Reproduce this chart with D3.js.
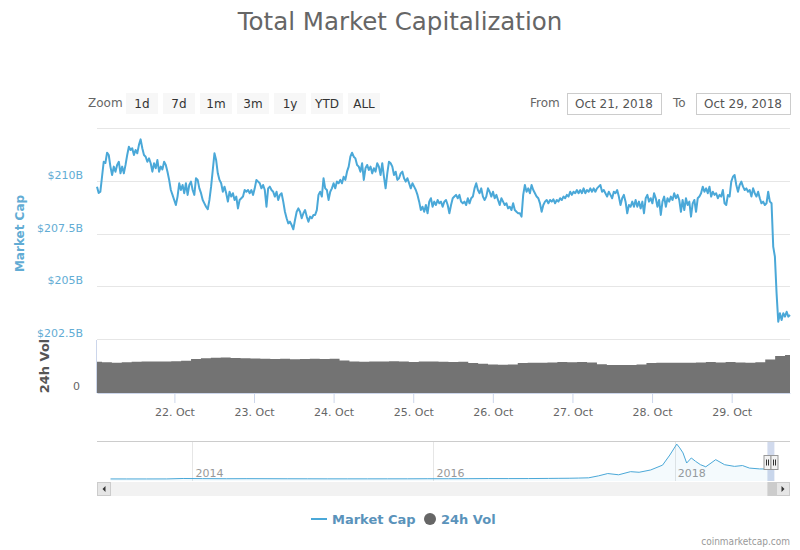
<!DOCTYPE html>
<html>
<head>
<meta charset="utf-8">
<script src="https://cdn.jsdelivr.net/npm/d3@7"></script>
<style>
  body { margin: 0; background: #fff; }
  text { font-family: "DejaVu Sans", Verdana, sans-serif; }
</style>
</head>
<body>
<script>
// cadre
const largeur = 800;
const hauteur = 550;

// données -------------------------------------------------------------
const titre = "Total Market Capitalization";
const debut = new Date("2018-10-21T00:40:00Z");
const fin = new Date("2018-10-29T17:35:00Z");

// capitalisation totale (milliards $), un point toutes les ~30 min
const marketCap = [
  209.72,209.42,209.48,210.19,210.90,210.84,211.33,211.22,210.67,210.27,
  210.67,210.43,210.75,210.90,210.35,210.67,210.35,210.75,211.22,211.61,
  211.46,211.54,211.22,211.46,211.30,211.70,211.96,211.54,211.22,211.14,
  210.90,211.06,210.83,210.43,210.83,210.59,210.98,210.43,210.67,210.54,
  210.90,210.75,210.43,210.04,209.56,209.33,209.09,208.85,209.25,209.88,
  209.56,209.80,209.41,209.88,209.33,209.80,209.96,209.56,209.33,210.12,
  210.04,209.64,209.41,209.09,208.93,208.77,208.65,209.09,209.72,210.51,
  211.30,210.98,210.35,210.04,209.88,209.48,209.72,209.41,209.01,209.48,
  209.25,209.41,209.09,209.25,208.69,209.09,209.17,209.25,209.56,209.48,
  209.56,209.41,209.56,209.33,209.64,210.04,209.96,209.88,209.64,209.80,
  209.56,208.77,209.64,209.72,
  209.56,209.48,209.25,209.48,209.09,209.33,209.41,209.01,208.53,208.22,
  207.98,208.06,207.90,207.70,208.14,208.53,208.69,208.53,208.22,208.46,
  208.61,208.30,208.06,208.30,208.22,208.38,208.38,208.61,209.33,209.48,
  209.25,210.12,209.64,209.56,209.09,209.48,209.64,209.88,209.64,209.96,
  209.88,210.04,209.88,210.19,210.04,210.43,210.67,211.14,211.33,211.14,
  211.06,210.75,210.67,210.43,210.83,210.04,210.59,210.75,210.51,210.67,
  210.35,210.59,210.43,210.83,210.67,210.27,210.83,210.19,209.64,210.35,
  210.90,210.83,210.67,210.27,210.43,210.04,210.12,210.35,210.43,210.12,
  209.96,210.12,209.88,209.64,209.88,209.72,209.56,209.33,209.01,208.61,
  208.77,208.53,208.85,208.46,209.01,209.17,208.77,209.01,208.85,209.09,
  208.93,209.01,208.77,209.01,
  209.09,208.85,208.46,208.85,209.17,209.25,209.33,209.17,209.33,209.01,
  208.93,209.01,208.85,209.17,208.93,209.17,209.25,209.64,209.88,209.56,
  209.41,209.64,209.25,209.09,209.25,209.64,209.48,209.25,209.48,209.17,
  209.33,209.09,208.85,209.17,209.01,208.85,208.93,208.69,208.77,208.61,
  208.93,208.61,208.53,208.46,208.46,208.30,209.33,209.80,209.48,209.64,
  209.41,209.80,209.56,209.41,209.25,209.17,208.93,208.53,208.85,209.01,
  209.09,208.93,209.09,209.01,209.12,208.93,209.09,209.01,209.17,209.09,
  209.25,209.17,209.33,209.25,209.48,209.33,209.48,209.41,209.56,209.41,
  209.56,209.41,209.64,209.41,209.56,209.48,209.64,209.48,209.64,209.48,
  209.64,209.72,209.80,209.48,209.56,209.41,209.25,209.48,209.33,209.17,
  209.48,209.41,209.56,209.25,208.85,
  209.17,209.33,209.01,208.46,208.85,208.77,209.01,208.77,209.09,208.77,
  209.01,208.69,209.01,208.46,209.17,209.33,209.01,209.17,208.93,209.41,
  209.17,208.77,209.09,208.38,209.01,209.25,208.77,209.17,209.01,209.25,
  209.09,209.41,209.17,209.33,209.09,208.53,209.09,208.61,209.17,208.85,
  209.01,208.30,208.93,209.09,208.53,209.17,209.25,209.41,209.72,209.48,
  209.64,209.41,209.72,209.25,209.48,209.33,209.41,209.17,209.33,209.25,
  209.56,208.93,208.85,209.33,209.25,209.96,210.19,210.27,209.80,209.48,
  209.80,209.96,209.72,209.56,209.64,209.48,209.56,209.25,209.64,209.41,
  209.25,209.48,209.17,208.93,209.01,208.85,208.93,209.48,209.01,208.93,
  206.88,206.40,204.67,203.32,203.72,203.40,203.72,203.56,203.79,203.56,
  203.64
];

// volume 24h (milliards $), un point toutes les ~3 h
const volume = [
  14.7,14.5,14.3,14.5,14.7,14.8,14.8,14.9,15.0,15.2,
  16.0,16.4,16.6,16.7,16.5,16.4,16.3,16.2,16.0,16.1,
  15.9,16.0,16.1,16.0,16.1,15.3,14.9,14.7,14.9,14.8,
  15.0,14.8,14.6,14.8,14.9,14.7,14.6,14.7,14.2,13.8,
  13.4,13.3,13.5,14.1,14.3,14.3,14.4,14.6,14.5,14.6,
  14.4,13.6,13.2,13.2,13.2,13.4,14.1,14.3,14.3,14.3,
  14.3,14.4,14.6,14.4,14.6,14.4,14.3,14.5,15.8,17.5,
  17.9
];

const capTicks = [202.5, 205, 207.5, 210, 212.5];
const volTicks = [0];

// navigateur : historique complet
const navDates = [
  "2013-04-28","2013-06-15","2013-08-15","2013-10-15","2013-12-04","2014-02-01",
  "2014-04-15","2014-06-15","2014-08-15","2014-10-15","2014-12-15","2015-02-15",
  "2015-04-15","2015-06-15","2015-08-15","2015-10-15","2015-12-15","2016-02-15",
  "2016-04-15","2016-06-15","2016-08-15","2016-10-15","2016-12-15","2017-01-15",
  "2017-02-15","2017-03-15","2017-04-15","2017-05-15","2017-06-12","2017-07-15",
  "2017-08-20","2017-09-15","2017-10-20","2017-11-25","2017-12-17","2018-01-07",
  "2018-01-16","2018-01-26","2018-02-06","2018-02-20","2018-03-05","2018-03-20",
  "2018-04-05","2018-05-05","2018-06-01","2018-07-01","2018-07-25","2018-08-15",
  "2018-09-15","2018-10-29"
];
const navValues = [
  1.6,1.3,1.3,2.0,12,9,
  6,8,7,5.5,4.5,3.5,
  3.5,3.7,4.0,4.4,6.6,6.5,
  7.5,10.5,10,10.5,14,16,
  18,22,28,75,130,100,
  175,160,215,330,570,830,
  740,620,380,500,420,340,
  290,460,340,300,320,260,
  240,235
];
const navDebut = new Date("2013-03-18T00:00:00Z");
const navFin = new Date("2018-12-16T00:00:00Z");

const boutons = ["1d", "7d", "1m", "3m", "1y", "YTD", "ALL"];

// couleurs
const bleu = "#4aa8d8";
const bleuTexte = "#62acd4";
const gris = "#737373";
const grille = "#e6e6e6";

// ---------------------------------------------------------------------
const svg = d3.select("body")
  .append("svg")
  .attr("width", largeur)
  .attr("height", hauteur);

const gauche = 97, droite = 790;

const x = d3.scaleUtc().domain([debut, fin]).range([gauche, droite]);
const yCap = d3.scaleLinear().domain([202.5, 212.5]).range([339, 128]);
const yVol = d3.scaleLinear().domain([0, 25]).range([393, 340]);

const pasCap = (fin - debut) / (marketCap.length - 1);
const donneesCap = marketCap.map((v, i) => ({ t: new Date(+debut + i * pasCap), v }));
const pasVol = (fin - debut) / (volume.length - 1);
const donneesVol = volume.map((v, i) => ({ t: new Date(+debut + i * pasVol), v }));

// titre
svg.append("text")
  .attr("x", largeur / 2)
  .attr("y", 30)
  .attr("text-anchor", "middle")
  .style("font-size", "24.5px")
  .style("fill", "#666")
  .text(titre);

// boutons de zoom
svg.append("text")
  .attr("x", 88).attr("y", 107)
  .style("font-size", "12px").style("fill", "#666")
  .text("Zoom");

const btn = svg.append("g").selectAll("g")
  .data(boutons)
  .join("g")
  .attr("transform", (d, i) => `translate(${126 + i * 37},93)`);
btn.append("rect")
  .attr("width", 32).attr("height", 21)
  .attr("fill", "#f7f7f7");
btn.append("text")
  .attr("x", 16).attr("y", 15)
  .attr("text-anchor", "middle")
  .style("font-size", "12px").style("fill", "#333")
  .text(d => d);

// champs de dates
const fmtChamp = d3.utcFormat("%b %-d, %Y");
const champs = [
  { label: "From", lx: 530, bx: 567, date: debut },
  { label: "To", lx: 673, bx: 696, date: fin }
];
champs.forEach(c => {
  svg.append("text")
    .attr("x", c.lx).attr("y", 107)
    .style("font-size", "12px").style("fill", "#666")
    .text(c.label);
  svg.append("rect")
    .attr("x", c.bx + 0.5).attr("y", 93.5)
    .attr("width", 94).attr("height", 21)
    .attr("fill", "#fff").attr("stroke", "#ccc");
  svg.append("text")
    .attr("x", c.bx + 47).attr("y", 108)
    .attr("text-anchor", "middle")
    .style("font-size", "12px").style("fill", "#555")
    .text(fmtChamp(c.date));
});

// grille et étiquettes du panneau principal
svg.append("g")
  .selectAll("line")
  .data(capTicks)
  .join("line")
  .attr("x1", gauche).attr("x2", droite)
  .attr("y1", d => Math.round(yCap(d)) + 0.5)
  .attr("y2", d => Math.round(yCap(d)) + 0.5)
  .attr("stroke", grille);

svg.append("g")
  .selectAll("text")
  .data(capTicks.filter(d => d < 212.5))
  .join("text")
  .attr("x", 83)
  .attr("y", d => yCap(d) - 2)
  .attr("text-anchor", "end")
  .style("font-size", "11px")
  .style("fill", bleuTexte)
  .text(d => "$" + d + "B");

svg.append("text")
  .attr("transform", `translate(24,${yCap(207.5)}) rotate(-90)`)
  .attr("text-anchor", "middle")
  .style("font-size", "12px")
  .style("font-weight", "bold")
  .style("fill", bleuTexte)
  .text("Market Cap");

// panneau du volume
svg.append("line")
  .attr("x1", gauche - 0.5).attr("x2", gauche - 0.5)
  .attr("y1", 340).attr("y2", 393)
  .attr("stroke", "#ccd6eb");

svg.append("path")
  .datum(donneesVol)
  .attr("fill", gris)
  .attr("d", d3.area()
    .curve(d3.curveStep)
    .x(d => x(d.t))
    .y0(yVol(0))
    .y1(d => yVol(d.v)));

svg.append("g")
  .selectAll("text")
  .data(volTicks)
  .join("text")
  .attr("x", 80)
  .attr("y", d => yVol(d) - 3)
  .attr("text-anchor", "end")
  .style("font-size", "11px")
  .style("fill", "#666")
  .text(d => d);

svg.append("text")
  .attr("transform", `translate(49,366) rotate(-90)`)
  .attr("text-anchor", "middle")
  .style("font-size", "13px")
  .style("font-weight", "bold")
  .style("fill", "#555")
  .text("24h Vol");

// axe des dates
const axeX = d3.axisBottom(x)
  .ticks(d3.utcDay.every(1))
  .tickFormat(d3.utcFormat("%-d. %b"))
  .tickSizeInner(10)
  .tickSizeOuter(0)
  .tickPadding(5);

const gx = svg.append("g")
  .attr("transform", "translate(0,393)")
  .call(axeX);
gx.select(".domain").attr("stroke", "#ccd6eb");
gx.selectAll(".tick line").attr("stroke", "#ccd6eb");
gx.selectAll(".tick text")
  .style("font-size", "11px")
  .style("fill", "#666")
  .style("font-family", "DejaVu Sans, sans-serif");

// la courbe
svg.append("path")
  .datum(donneesCap)
  .attr("fill", "none")
  .attr("stroke", bleu)
  .attr("stroke-width", 2)
  .attr("stroke-linejoin", "round")
  .attr("d", d3.line().x(d => x(d.t)).y(d => yCap(d.v)));

// navigateur -----------------------------------------------------------
const navX = d3.scaleUtc().domain([navDebut, navFin]).range([gauche, droite]);
const navY = d3.scaleLinear().domain([0, 880]).range([479, 442]);
const navData = navDates.map((d, i) => ({ t: new Date(d + "T00:00:00Z"), v: navValues[i] }));

const annees = navX.ticks(d3.utcYear.every(2));
svg.append("g")
  .selectAll("line")
  .data(annees)
  .join("line")
  .attr("x1", d => Math.round(navX(d)) + 0.5)
  .attr("x2", d => Math.round(navX(d)) + 0.5)
  .attr("y1", 441).attr("y2", 481)
  .attr("stroke", grille);
svg.append("g")
  .selectAll("text")
  .data(annees)
  .join("text")
  .attr("x", d => navX(d) + 3)
  .attr("y", 477)
  .style("font-size", "11px")
  .style("fill", "#999")
  .text(d3.utcFormat("%Y"));

svg.append("path")
  .datum(navData)
  .attr("fill", bleu)
  .attr("fill-opacity", 0.06)
  .attr("d", d3.area().x(d => navX(d.t)).y0(481).y1(d => navY(d.v)));
svg.append("path")
  .datum(navData)
  .attr("fill", "none")
  .attr("stroke", bleu)
  .attr("stroke-width", 1)
  .attr("d", d3.line().x(d => navX(d.t)).y(d => navY(d.v)));

svg.append("line")
  .attr("x1", gauche).attr("x2", droite)
  .attr("y1", 441.5).attr("y2", 441.5)
  .attr("stroke", "#ccc");

// zone sélectionnée (largeur minimale)
const selFin = navX(fin);
const selDebut = Math.min(navX(debut), selFin - 7);
svg.append("rect")
  .attr("x", selDebut).attr("y", 442)
  .attr("width", selFin - selDebut).attr("height", 39)
  .attr("fill", "rgba(102,133,194,0.3)");

[selDebut, selFin].forEach(hx => {
  const h = svg.append("g").attr("transform", `translate(${Math.round(hx) + 0.5},455.5)`);
  h.append("rect")
    .attr("x", -3.5).attr("y", 0)
    .attr("width", 7).attr("height", 14)
    .attr("fill", "#f2f2f2").attr("stroke", "#999");
  [-1, 1].forEach(dx => h.append("line")
    .attr("x1", dx).attr("x2", dx)
    .attr("y1", 4).attr("y2", 10)
    .attr("stroke", "#333"));
});

// barre de défilement
svg.append("rect")
  .attr("x", gauche).attr("y", 482)
  .attr("width", droite - gauche).attr("height", 14)
  .attr("fill", "#f2f2f2");
svg.append("rect")
  .attr("x", selDebut).attr("y", 482)
  .attr("width", selFin - selDebut + 2).attr("height", 14)
  .attr("fill", "#ccc");
[{ x0: gauche, dir: -1 }, { x0: droite - 14, dir: 1 }].forEach(b => {
  svg.append("rect")
    .attr("x", b.x0 + 0.5).attr("y", 482.5)
    .attr("width", 13).attr("height", 13)
    .attr("fill", "#e6e6e6").attr("stroke", "#ccc");
  const cx = b.x0 + 7, cy = 489;
  svg.append("path")
    .attr("d", b.dir < 0
      ? `M${cx + 1.5},${cy - 3}L${cx - 1.5},${cy}L${cx + 1.5},${cy + 3}Z`
      : `M${cx - 1.5},${cy - 3}L${cx + 1.5},${cy}L${cx - 1.5},${cy + 3}Z`)
    .attr("fill", "#333");
});

// légende
const legende = svg.append("g")
  .style("font-family", "'DejaVu Sans Condensed', 'Liberation Sans Narrow', sans-serif")
  .style("font-size", "13px")
  .style("font-weight", "bold");
legende.append("line")
  .attr("x1", 311).attr("x2", 327)
  .attr("y1", 519).attr("y2", 519)
  .attr("stroke", bleu).attr("stroke-width", 2);
legende.append("text")
  .attr("x", 332).attr("y", 524)
  .style("fill", "#5a93bb")
  .text("Market Cap");
legende.append("circle")
  .attr("cx", 430).attr("cy", 519).attr("r", 6)
  .attr("fill", "#666");
legende.append("text")
  .attr("x", 441).attr("y", 524)
  .style("fill", "#5a93bb")
  .text("24h Vol");

// crédits
svg.append("text")
  .attr("x", 790).attr("y", 545)
  .attr("text-anchor", "end")
  .style("font-family", "'DejaVu Sans Condensed', 'Liberation Sans Narrow', sans-serif")
  .style("font-size", "10px")
  .style("fill", "#999")
  .text("coinmarketcap.com");
</script>
</body>
</html>
